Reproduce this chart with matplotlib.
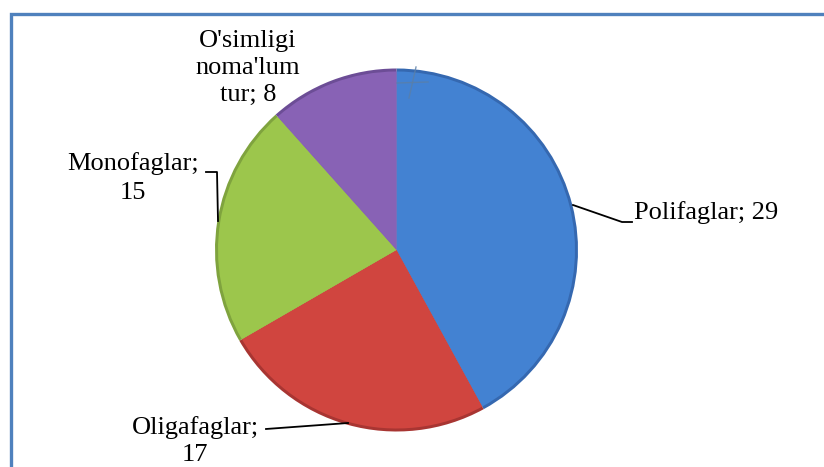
import matplotlib.pyplot as plt
from matplotlib.patches import Rectangle

categories = ["Polifaglar", "Oligafaglar", "Monofaglar", "O'simligi noma'lum tur"]
values = [29, 17, 15, 8]
label_text = ["Polifaglar; 29", "Oligafaglar;\n17", "Monofaglar;\n15", "O'simligi\nnoma'lum\ntur; 8"]
colors = ["#4382D2", "#D0453F", "#9CC64C", "#8862B5"]
rim_colors = ["#3568B0", "#A83532", "#7FA33E", "#6C4D96"]

W, H = 824, 467
fig = plt.figure(figsize=(W / 100, H / 100), dpi=100)
ax = fig.add_axes([0, 0, 1, 1])

# pixel helper (y measured from top of image)
def py(y):
    return H - y

cx, cy, r = 396.5, py(250), 181.5

# darker rim, then main face slightly smaller
ax.pie(values, colors=rim_colors, startangle=90, counterclock=False,
       center=(cx, cy), radius=r, frame=True,
       wedgeprops=dict(linewidth=0))
ax.pie(values, colors=colors, startangle=90, counterclock=False,
       center=(cx, cy), radius=r - 3, frame=True,
       wedgeprops=dict(linewidth=0))
ax.set_xlim(0, W)
ax.set_ylim(0, H)
ax.set_aspect("equal")
ax.axis("off")

font = dict(family="Liberation Serif", fontsize=19, color="black")

# labels and leader lines
ax.text(634, py(213), label_text[0], ha="left", va="center", **font)
ax.plot([573, 622, 632], [py(205), py(222), py(222)], color="black", lw=1.3)

ax.text(195, py(441), label_text[1], ha="center", va="center",
        linespacing=1.35, **font)
ax.plot([266, 348], [py(429), py(423)], color="black", lw=1.3)

ax.text(133, py(178), label_text[2], ha="center", va="center",
        linespacing=1.4, **font)
ax.plot([206, 217, 218], [py(172), py(172), py(221)], color="black", lw=1.3)

ax.text(248, py(68), label_text[3], ha="center", va="center",
        linespacing=1.3, **font)

# stray marks near the top of the pie
ax.plot([416, 409], [py(67), py(98)], color="#5a7fa8", lw=1, alpha=0.8)
ax.plot([397, 428], [py(83), py(82)], color="#5a7fa8", lw=1, alpha=0.8)

# chart area frame (only top and left visible in the crop)
fig.patches.append(Rectangle((10.5 / W, -0.1), 1.0, (H - 13.5) / H + 0.1,
                             transform=fig.transFigure, fill=False,
                             edgecolor="#4F81BD", lw=2.4, clip_on=False))

fig.savefig("out.png", dpi=100)
